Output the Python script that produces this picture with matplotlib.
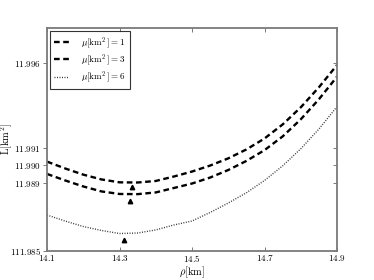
import matplotlib
matplotlib.use("Agg")
import matplotlib.pyplot as plt

plt.rcParams['mathtext.fontset'] = 'cm'
plt.rcParams['font.family'] = ['DejaVu Serif']

rho = [14.10, 14.15, 14.20, 14.25, 14.30, 14.35, 14.40, 14.45, 14.50,
       14.55, 14.60, 14.65, 14.70, 14.75, 14.80, 14.85, 14.90]
L_mu1 = [11.99022, 11.98982, 11.98946, 11.98918, 11.98901, 11.98900, 11.98909,
         11.98935, 11.98964, 11.98999, 11.99041, 11.99093, 11.99157, 11.99239,
         11.99339, 11.99456, 11.99586]
L_mu3 = [11.98950, 11.98912, 11.98877, 11.98848, 11.98833, 11.98832, 11.98842,
         11.98868, 11.98894, 11.98929, 11.98973, 11.99026, 11.99089, 11.99169,
         11.99269, 11.99386, 11.99518]
L_mu6 = [11.98710, 11.98675, 11.98643, 11.98620, 11.98602, 11.98605, 11.98623,
         11.98652, 11.98675, 11.98725, 11.98780, 11.98840, 11.98912, 11.98997,
         11.99097, 11.99212, 11.99343]
min_rho = [14.335, 14.329, 14.313]
min_L = [11.98874, 11.98792, 11.98564]
labels = [r'$\mu[\mathrm{km}^2\,]=1$', r'$\mu[\mathrm{km}^2\,]=3$', r'$\mu[\mathrm{km}^2\,]=6$']

xticks = [14.1, 14.3, 14.5, 14.7, 14.9]
xticklabels = ['14.1', '14.3', '14.5', '14.7', '14.9']
yticks = [11.985, 11.989, 11.990, 11.991, 11.996]
yticklabels = ['111.985', '11.989', '11.990', '11.991', '11.996']

fig = plt.figure(figsize=(3.74, 2.80), dpi=100)
ax = fig.add_axes([0.1257, 0.1036, 0.9011 - 0.1257, 0.901 - 0.1036])

ax.plot(rho, L_mu1, color='black', lw=1.7, linestyle=(0, (2.4, 1.5)), label=labels[0])
ax.plot(rho, L_mu3, color='black', lw=1.7, linestyle=(0, (2.4, 1.5)), label=labels[1])
ax.plot(rho, L_mu6, color='#333333', lw=1.0, linestyle=(0, (0.7, 1.1)), label=labels[2])
ax.plot(min_rho, min_L, linestyle='none', marker='^', color='black', markersize=3.2)

ax.set_xlim(14.1, 14.9)
ax.set_ylim(11.985, 11.99804)
ax.set_xticks(xticks)
ax.set_xticklabels([r'$\mathrm{%s}$' % t for t in xticklabels], fontsize=6.5)
ax.set_yticks(yticks)
ax.set_yticklabels([r'$\mathrm{%s}$' % t for t in yticklabels], fontsize=6.5)

for s in ax.spines.values():
    s.set_color('#7a7a7a')
    s.set_linewidth(1.3)
ax.tick_params(axis='both', colors='#7a7a7a', labelcolor='black', width=0.7, length=3)
ax.tick_params(axis='x', direction='in', top=True, pad=1.5)
ax.tick_params(axis='y', direction='out', right=False, pad=1.5)
ax.yaxis.set_ticks_position('left')
ax2 = ax.secondary_yaxis('right')
ax2.set_yticks(yticks)
ax2.tick_params(direction='in', length=3, width=0.7, colors='#7a7a7a', labelright=False)
ax2.spines['right'].set_visible(False)

ax.set_xlabel(r'$\rho[\mathrm{km}]$', fontsize=7.5)
ax.set_ylabel(r'$\mathrm{L}[\mathrm{km}^2]$', fontsize=7.5)
ax.xaxis.set_label_coords(0.5, -0.06)
ax.yaxis.set_label_coords(-0.11, 0.5)

leg = ax.legend(loc='upper left', fontsize=6.5, frameon=True, fancybox=False,
                handlelength=1.6, handletextpad=1.4, borderpad=0.45,
                labelspacing=0.2, borderaxespad=0.35)
leg.get_frame().set_edgecolor('black')
leg.get_frame().set_linewidth(0.8)

fig.savefig('out.png', dpi=100)
